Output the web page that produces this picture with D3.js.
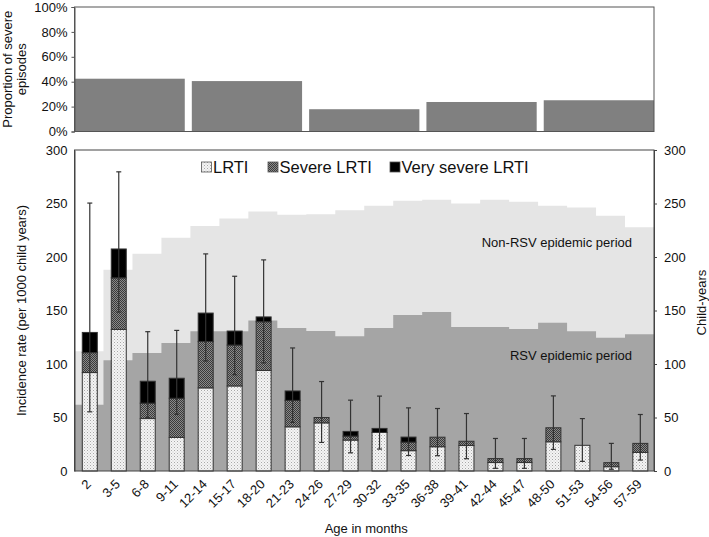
<!DOCTYPE html>
<html>
<head>
<meta charset="utf-8">
<script src="https://cdn.jsdelivr.net/npm/d3@7"></script>
<style>
  html, body { margin: 0; padding: 0; background: #fff; }
  svg { display: block; font-family: "Liberation Sans", Arial, sans-serif; }
</style>
</head>
<body>
<svg id="chart" width="709" height="537"></svg>
<script>
// ---------- data ----------
const categories = ["2","3-5","6-8","9-11","12-14","15-17","18-20","21-23","24-26","27-29",
  "30-32","33-35","36-38","39-41","42-44","45-47","48-50","51-53","54-56","57-59"];
// stacked segments (incidence per 1000 child years)
const lrti       = [92, 132.3, 49, 31.4, 77.7, 79.5, 94, 41.3, 45, 28.9, 36, 19, 22.7, 23.8, 7.9, 7.9, 27.3, 24, 4, 17.4];
const severe     = [18.6, 48.2, 14.4, 36.6, 43.3, 38.2, 45.5, 24.7, 5, 3.7, 0, 8, 8.9, 4, 3.7, 3.7, 13.1, 0, 3.8, 8.4];
const verySevere = [18.9, 27, 20.5, 18.7, 26.6, 13.1, 4.5, 8.8, 0, 4.4, 3.8, 4.7, 0, 0, 0, 0, 0, 0, 0, 0];
const errLow  = [55.3, 148.5, 50, 53, 102.8, 90, 101, 45.4, 26.7, 17, 20.5, 14.5, 14.3, 11.5, 2.5, 2.5, 20.2, 9, 1.6, 10.2];
const errHigh = [250.4, 279.6, 130.2, 131.4, 202.9, 182, 197.3, 115, 83.6, 66.2, 70, 59, 58.4, 53.7, 30.4, 30.4, 70.2, 49, 25.8, 52.8];
// child-years (right axis)
const rsvYears    = [62, 103.5, 110.3, 119.6, 130.5, 130.5, 140.7, 133.6, 130.8, 126, 133.6, 145.7, 148.5, 134.5, 134.5, 132.6, 138.6, 130.5, 124.6, 127.7];
const nonRsvYears = [50, 84.5, 92.7, 98.4, 98.5, 105.5, 101.9, 105.9, 109.2, 117.8, 114.4, 106.9, 105, 115.5, 119, 119, 109.4, 115.8, 114, 100];
// proportion of severe episodes per 12-month group
const propGroups = ["0-11","12-23","24-35","36-47","48-59"];
const propSevere = [42.4, 40.5, 17.9, 23.7, 25.1];
const yTicks = [0, 50, 100, 150, 200, 250, 300];
const pctTicks = [0, 20, 40, 60, 80, 100];
const seriesNames = ["LRTI", "Severe LRTI", "Very severe LRTI"];

// ---------- layout ----------
const svg = d3.select("#chart");
const L = 74.5, R = 654;
const top1 = 7, bot1 = 131.5;
const top2 = 150, bot2 = 471;
const font = 13;

const defs = svg.append("defs");
// LRTI: light stipple
const p1 = defs.append("pattern").attr("id","pLrti").attr("width",3).attr("height",3).attr("patternUnits","userSpaceOnUse");
p1.append("rect").attr("width",3).attr("height",3).attr("fill","#f4f4f4");
p1.append("rect").attr("x",0).attr("y",0).attr("width",1).attr("height",1).attr("fill","#a8a8a8");
p1.append("rect").attr("x",1.5).attr("y",1.5).attr("width",1).attr("height",1).attr("fill","#c4c4c4");
// Severe: dark checker
const p2 = defs.append("pattern").attr("id","pSev").attr("width",2).attr("height",2).attr("patternUnits","userSpaceOnUse");
p2.append("rect").attr("width",2).attr("height",2).attr("fill","#8a8a8a");
p2.append("rect").attr("x",0).attr("y",0).attr("width",1).attr("height",1).attr("fill","#3a3a3a");
p2.append("rect").attr("x",1).attr("y",1).attr("width",1).attr("height",1).attr("fill","#3a3a3a");
const fills = ["url(#pLrti)", "url(#pSev)", "#000"];

// ---------- top panel ----------
const xTop = d3.scaleBand().domain(propGroups).range([L, R]).paddingInner(0.06).paddingOuter(0);
const yTop = d3.scaleLinear().domain([0, 100]).range([bot1, top1]);

svg.append("g").selectAll("rect").data(propSevere).join("rect")
  .attr("x", (d,i) => xTop(propGroups[i]))
  .attr("width", xTop.bandwidth())
  .attr("y", d => yTop(d))
  .attr("height", d => yTop(0) - yTop(d))
  .attr("fill", "#808080");

svg.append("rect").attr("x", L).attr("y", top1).attr("width", R - L).attr("height", bot1 - top1)
  .attr("fill","none").attr("stroke", "#555").attr("stroke-width", 1);

const gTopAxis = svg.append("g").attr("transform", `translate(${L},0)`)
  .call(d3.axisLeft(yTop).tickValues(pctTicks).tickFormat(d => d + "%").tickSize(3).tickPadding(4));
gTopAxis.select(".domain").attr("stroke", "#555");
gTopAxis.selectAll("line").attr("stroke", "#555");
gTopAxis.selectAll("text").attr("font-size", font).attr("fill", "#111").attr("font-family", "Liberation Sans, Arial, sans-serif");

const topTitle = svg.append("text").attr("transform", `translate(0,${(top1+bot1)/2}) rotate(-90)`)
  .attr("text-anchor","middle").attr("font-size", font).attr("fill","#111");
topTitle.append("tspan").attr("x",0).attr("y",11.5).text("Proportion of severe");
topTitle.append("tspan").attr("x",0).attr("y",25.5).text("episodes");

// ---------- main panel ----------
const x = d3.scaleBand().domain(categories).range([L, R]).padding(0);
const y = d3.scaleLinear().domain([0, 300]).range([bot2, top2]);

// step areas for child-years
function stepPoints(vals) {
  const pts = [];
  vals.forEach((v, i) => {
    pts.push({ x: x(categories[i]), v });
    pts.push({ x: x(categories[i]) + x.step(), v });
  });
  return pts;
}
const totalYears = rsvYears.map((v,i) => v + nonRsvYears[i]);
svg.append("path").datum(stepPoints(totalYears))
  .attr("d", d3.area().x(d => d.x).y0(y(0)).y1(d => y(d.v)))
  .attr("fill", "#e5e5e5");
svg.append("path").datum(stepPoints(rsvYears))
  .attr("d", d3.area().x(d => d.x).y0(y(0)).y1(d => y(d.v)))
  .attr("fill", "#a5a5a5");

svg.append("text").attr("x", 632).attr("y", 247).attr("text-anchor","end")
  .attr("font-size", font).attr("fill","#111").text("Non-RSV epidemic period");
svg.append("text").attr("x", 632).attr("y", 360).attr("text-anchor","end")
  .attr("font-size", font).attr("fill","#111").text("RSV epidemic period");

// stacked bars
const stackData = categories.map((c,i) => ({ cat: c, s0: lrti[i], s1: severe[i], s2: verySevere[i] }));
const stack = d3.stack().keys(["s0","s1","s2"])(stackData);
const barW = 15;
const gBars = svg.append("g");
stack.forEach((layer, k) => {
  gBars.append("g").selectAll("rect").data(layer.filter(d => d[1] - d[0] > 0)).join("rect")
    .attr("x", d => x(d.data.cat) + x.step()/2 - barW/2 + 0.8)
    .attr("width", barW)
    .attr("y", d => y(d[1]))
    .attr("height", d => y(d[0]) - y(d[1]))
    .attr("fill", fills[k])
    .attr("stroke", "#333").attr("stroke-width", 1);
});

// error bars
const gErr = svg.append("g").attr("stroke", "#333").attr("stroke-width", 1.2);
categories.forEach((c,i) => {
  const cx = x(c) + x.step()/2 + 0.8;
  gErr.append("line").attr("x1", cx).attr("x2", cx).attr("y1", y(errLow[i])).attr("y2", y(errHigh[i]));
  gErr.append("line").attr("x1", cx-2.5).attr("x2", cx+2.5).attr("y1", y(errLow[i])).attr("y2", y(errLow[i]));
  gErr.append("line").attr("x1", cx-2.5).attr("x2", cx+2.5).attr("y1", y(errHigh[i])).attr("y2", y(errHigh[i]));
});

// frame
svg.append("rect").attr("x", L).attr("y", top2).attr("width", R - L).attr("height", bot2 - top2)
  .attr("fill","none").attr("stroke", "#444").attr("stroke-width", 1);

// axes
const gLeft = svg.append("g").attr("transform", `translate(${L},0)`)
  .call(d3.axisLeft(y).tickValues(yTicks).tickSize(0).tickPadding(7));
const gRight = svg.append("g").attr("transform", `translate(${R},0)`)
  .call(d3.axisRight(y).tickValues(yTicks).tickSize(3).tickPadding(7));
[gLeft, gRight].forEach(g => {
  g.select(".domain").attr("stroke", "#444");
  g.selectAll("line").attr("stroke", "#444");
  g.selectAll("text").attr("font-size", font).attr("fill", "#111").attr("font-family", "Liberation Sans, Arial, sans-serif");
});

// x tick labels
svg.append("g").selectAll("text").data(categories).join("text")
  .attr("transform", d => `translate(${x(d) + x.step()/2 + 3},${bot2 + 14}) rotate(-45)`)
  .attr("text-anchor", "end")
  .attr("font-size", font).attr("fill", "#111")
  .text(d => d);

// axis titles
svg.append("text").attr("transform", `translate(26,${(top2+bot2)/2}) rotate(-90)`)
  .attr("text-anchor","middle").attr("font-size", font).attr("fill","#111")
  .text("Incidence rate (per 1000 child years)");
svg.append("text").attr("transform", `translate(706,${(top2+bot2)/2 - 8}) rotate(-90)`)
  .attr("text-anchor","middle").attr("font-size", font).attr("fill","#111")
  .text("Child-years");
svg.append("text").attr("x", (L+R)/2 + 2).attr("y", 533)
  .attr("text-anchor","middle").attr("font-size", font).attr("fill","#111")
  .text("Age in months");

// legend
const legendX = [213, 279.5, 401.5];
const gLeg = svg.append("g");
seriesNames.forEach((name, k) => {
  gLeg.append("rect").attr("x", legendX[k] - 11.5).attr("y", 162).attr("width", 10).attr("height", 10)
    .attr("fill", fills[k]).attr("stroke", "#555").attr("stroke-width", 0.8);
  gLeg.append("text").attr("x", legendX[k]).attr("y", 173)
    .attr("font-size", 16.5).attr("fill", "#111").text(name);
});
</script>
</body>
</html>
